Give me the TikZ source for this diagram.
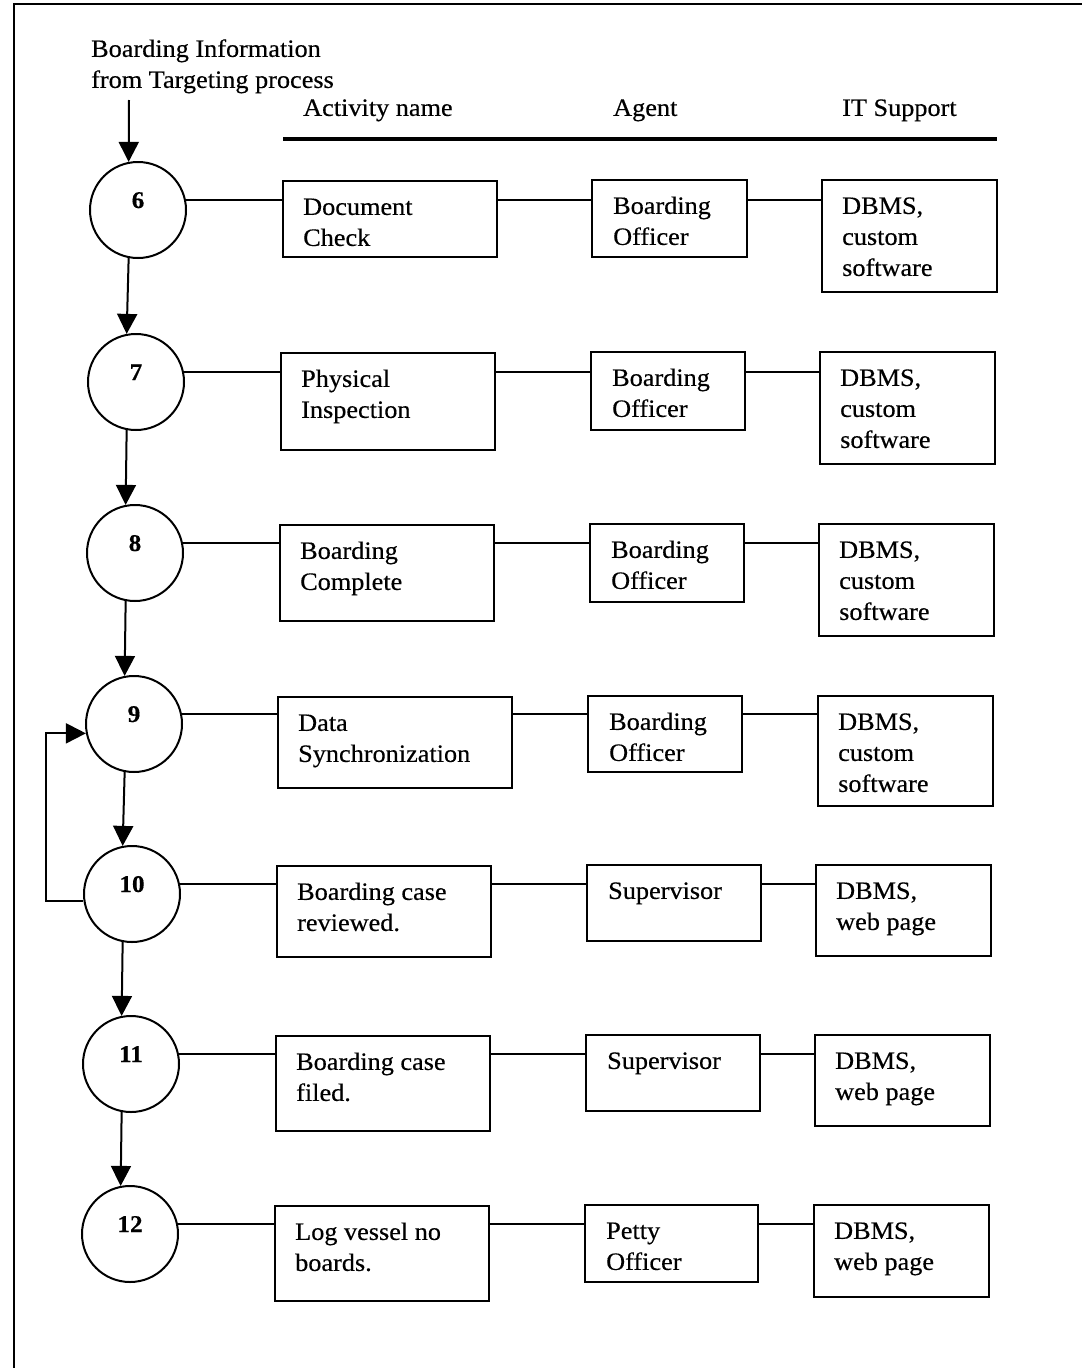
\documentclass[tikz,border=0pt]{standalone}
\usepackage{fontspec}
\setmainfont[FakeStretch=1.05,FakeBold=0.4]{Liberation Serif}
\usetikzlibrary{arrows.meta}
\begin{document}
\begin{tikzpicture}[x=1pt,y=-1pt,
  box/.style={draw, line width=2pt, anchor=north west, inner sep=0pt},
  stage/.style={draw, circle, line width=2pt, minimum size=96pt, inner sep=0pt,
    font=\fontsize{24}{31}\selectfont\bfseries, text height=16pt, text depth=20pt},
  txt/.style={anchor=north west, inner sep=0pt, align=left,
    font=\fontsize{25}{31}\selectfont},
  link/.style={line width=2pt},
  arr/.style={line width=2pt, -{Triangle[length=20pt,width=20pt]}},
]
\useasboundingbox (0,0) rectangle (1082,1368);

% frame
\draw[line width=2pt] (14,1368) -- (14,4) -- (1082,4);

% incoming information
\node[txt] (intext) at (91,35) {\strut Boarding Information\\from Targeting process};
\coordinate (in) at (129,100);

% column headings
\node[txt] (h1) at (303,94) {\strut Activity name};
\node[txt] (h2) at (613,94) {\strut Agent};
\node[txt] (h3) at (842,94) {\strut IT Support};
\coordinate (hl) at (283,139);
\coordinate (hr) at (997,139);
\draw[line width=3.5pt] (hl) -- (hr);

% process stages
\node[stage] (c6)  at (138,210)  {6};
\node[stage] (c7)  at (136,382)  {7};
\node[stage] (c8)  at (135,553)  {8};
\node[stage] (c9)  at (134,724)  {9};
\node[stage] (c10) at (132,894)  {10};
\node[stage] (c11) at (131,1064) {11};
\node[stage] (c12) at (130,1234) {12};

% activity boxes
\node[box, minimum width=214pt, minimum height=76pt] (a6)  at (282,180)  {};
\node[box, minimum width=214pt, minimum height=97pt] (a7)  at (280,352)  {};
\node[box, minimum width=214pt, minimum height=96pt] (a8)  at (279,524)  {};
\node[box, minimum width=234pt, minimum height=91pt] (a9)  at (277,696)  {};
\node[box, minimum width=214pt, minimum height=91pt] (a10) at (276,865)  {};
\node[box, minimum width=214pt, minimum height=95pt] (a11) at (275,1035) {};
\node[box, minimum width=214pt, minimum height=95pt] (a12) at (274,1205) {};

% agent boxes
\node[box, minimum width=155pt, minimum height=77pt] (g6)  at (591,179)  {};
\node[box, minimum width=154pt, minimum height=78pt] (g7)  at (590,351)  {};
\node[box, minimum width=154pt, minimum height=78pt] (g8)  at (589,523)  {};
\node[box, minimum width=154pt, minimum height=76pt] (g9)  at (587,695)  {};
\node[box, minimum width=174pt, minimum height=76pt] (g10) at (586,864)  {};
\node[box, minimum width=174pt, minimum height=76pt] (g11) at (585,1034) {};
\node[box, minimum width=173pt, minimum height=77pt] (g12) at (584,1204) {};

% IT support boxes
\node[box, minimum width=175pt, minimum height=112pt] (s6)  at (821,179)  {};
\node[box, minimum width=175pt, minimum height=112pt] (s7)  at (819,351)  {};
\node[box, minimum width=175pt, minimum height=112pt] (s8)  at (818,523)  {};
\node[box, minimum width=175pt, minimum height=110pt] (s9)  at (817,695)  {};
\node[box, minimum width=175pt, minimum height=91pt]  (s10) at (815,864)  {};
\node[box, minimum width=175pt, minimum height=91pt]  (s11) at (814,1034) {};
\node[box, minimum width=175pt, minimum height=92pt]  (s12) at (813,1204) {};

% box texts
\foreach \n/\act/\agt/\its in {
  6/{Document\\Check}/{Boarding\\Officer}/{DBMS,\\custom\\software},
  7/{Physical\\Inspection}/{Boarding\\Officer}/{DBMS,\\custom\\software},
  8/{Boarding\\Complete}/{Boarding\\Officer}/{DBMS,\\custom\\software},
  9/{Data\\Synchronization}/{Boarding\\Officer}/{DBMS,\\custom\\software},
  10/{Boarding case\\reviewed.}/{Supervisor}/{DBMS,\\web page},
  11/{Boarding case\\filed.}/{Supervisor}/{DBMS,\\web page},
  12/{Log vessel no\\boards.}/{Petty\\Officer}/{DBMS,\\web page}}{
  \node[txt] (ta\n) at ([shift={(21,13)}]a\n.north west) {\strut\act};
  \node[txt] (tg\n) at ([shift={(22,13)}]g\n.north west) {\strut\agt};
  \node[txt] (ts\n) at ([shift={(21,13)}]s\n.north west) {\strut\its};
}

% row connectors
\foreach \n in {6,7,8,9,10,11,12}{
  \draw[link] (c\n.12) -- (a\n.west |- c\n.12);
  \draw[link] (a\n.east |- c\n.12) -- (g\n.west |- c\n.12);
  \draw[link] (g\n.east |- c\n.12) -- (s\n.west |- c\n.12);
}

% flow between stages
\draw[arr] (in) -- (c6.101);
\draw[arr] (c6.259)  -- (c7.101);
\draw[arr] (c7.259)  -- (c8.101);
\draw[arr] (c8.259)  -- (c9.101);
\draw[arr] (c9.259)  -- (c10.101);
\draw[arr] (c10.259) -- (c11.101);
\draw[arr] (c11.259) -- (c12.101);

% feedback from review to synchronization
\coordinate (lp) at (46,800);
\draw[arr] (c10.188) -- (c10.188 -| lp) |- (c9.191);
\end{tikzpicture}
\end{document}
